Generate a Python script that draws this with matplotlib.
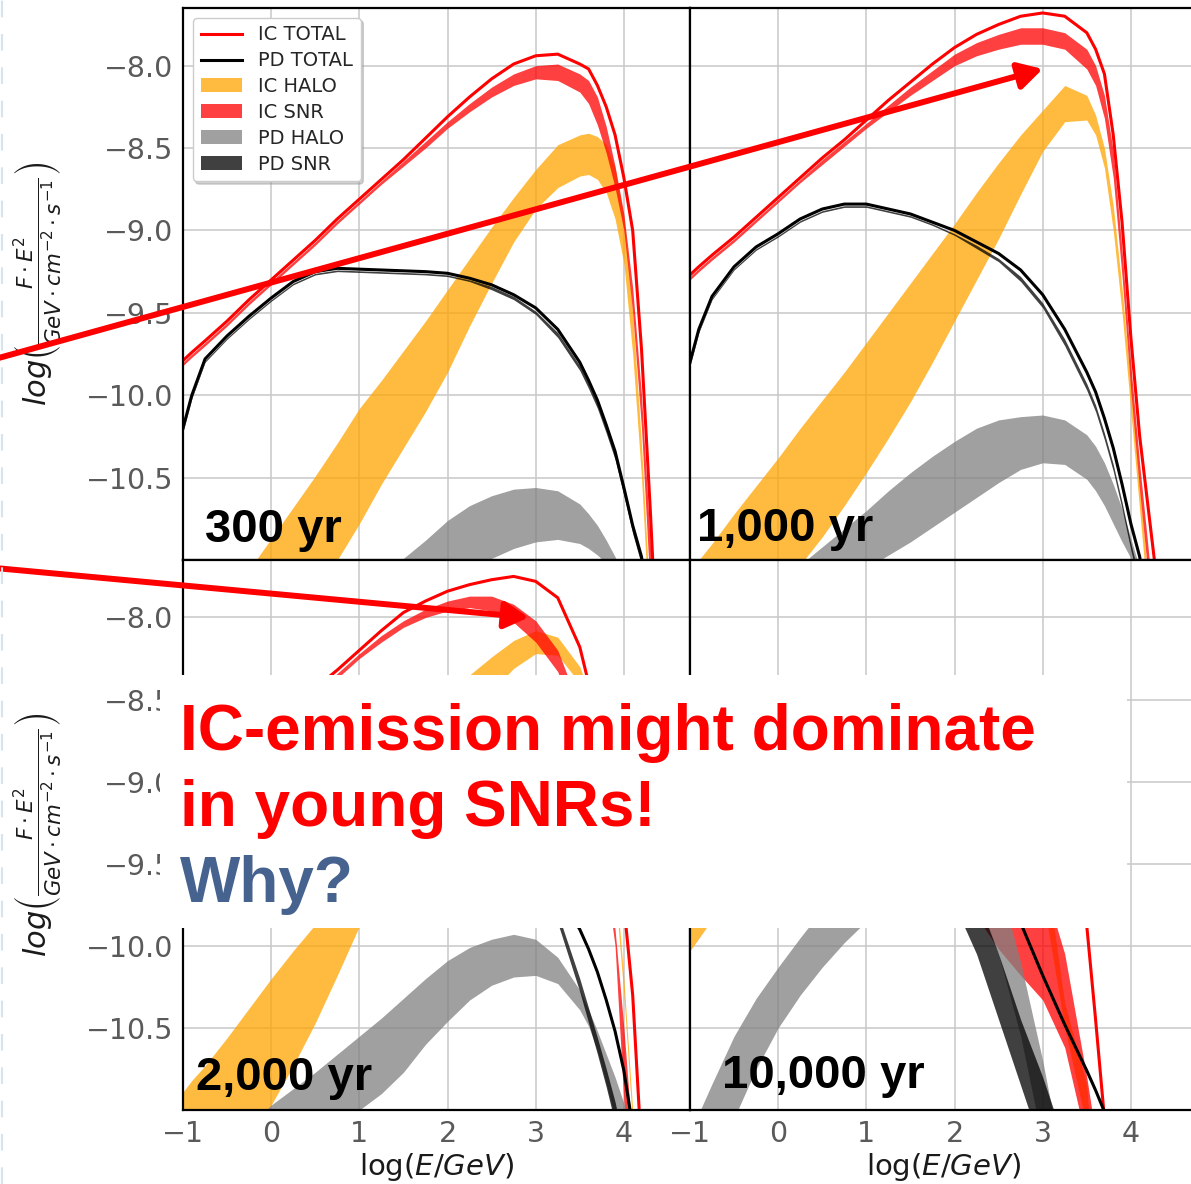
import matplotlib
matplotlib.use("Agg")
import matplotlib.pyplot as plt
from matplotlib.patches import Rectangle
from matplotlib.lines import Line2D

# energy grid, log10(E/GeV)
log_e = [-1, -0.9, -0.75, -0.5, -0.25, 0, 0.25, 0.5, 0.75, 1, 1.25, 1.5, 1.75, 2, 2.25,
         2.5, 2.75, 3, 3.25, 3.5, 3.6, 3.7, 3.8, 3.9, 4.0, 4.1, 4.2, 4.3, 4.4, 4.75]

# ---- 300 yr ----
ic_total_300 = [-9.79, -9.74, -9.67, -9.55, -9.42, -9.30, -9.18, -9.06, -8.93, -8.81, -8.69, -8.57, -8.44, -8.31, -8.19,
                -8.08, -7.99, -7.94, -7.93, -7.99, -8.02, -8.12, -8.25, -8.42, -8.68, -9.00, -9.72, -10.70, -11.80, -12.5]
pd_total_300 = [-10.20, -10.00, -9.78, -9.64, -9.52, -9.41, -9.31, -9.25, -9.23, -9.235, -9.24, -9.245, -9.25, -9.26, -9.29,
                -9.33, -9.39, -9.47, -9.60, -9.80, -9.91, -10.03, -10.18, -10.34, -10.56, -10.79, -10.98, -11.3, -11.6, -12.5]
ic_halo_hi_300 = [-11.63, -11.55, -11.44, -11.25, -11.06, -10.87, -10.68, -10.49, -10.29, -10.08, -9.91, -9.73, -9.55, -9.36, -9.17,
                  -8.98, -8.80, -8.63, -8.48, -8.42, -8.41, -8.43, -8.48, -8.62, -8.92, -9.50, -10.30, -11.30, -12.0, -12.5]
ic_halo_lo_300 = [-12.60, -12.50, -12.38, -12.15, -11.93, -11.70, -11.45, -11.22, -11.00, -10.78, -10.54, -10.32, -10.10, -9.86, -9.58,
                  -9.32, -9.07, -8.87, -8.74, -8.67, -8.66, -8.69, -8.77, -8.93, -9.20, -9.75, -10.50, -11.50, -12.2, -12.6]
ic_snr_hi_300 = [-9.80, -9.75, -9.68, -9.56, -9.43, -9.31, -9.19, -9.07, -8.94, -8.82, -8.70, -8.58, -8.46, -8.34, -8.23,
                 -8.13, -8.05, -8.00, -7.99, -8.05, -8.09, -8.19, -8.37, -8.61, -8.90, -9.35, -10.00, -10.90, -12.0, -12.5]
ic_snr_lo_300 = [-9.82, -9.77, -9.70, -9.58, -9.45, -9.33, -9.21, -9.09, -8.96, -8.84, -8.72, -8.61, -8.50, -8.38, -8.28,
                 -8.19, -8.12, -8.08, -8.09, -8.16, -8.23, -8.36, -8.53, -8.74, -9.00, -9.50, -10.20, -11.20, -12.2, -12.5]
pd_halo_hi_300 = [-12.60, -12.50, -12.35, -12.10, -11.88, -11.68, -11.50, -11.35, -11.22, -11.12, -11.04, -10.99, -10.88, -10.76, -10.67,
                  -10.61, -10.57, -10.56, -10.58, -10.66, -10.72, -10.79, -10.88, -10.98, -11.10, -11.25, -11.45, -11.7, -12.0, -12.5]
pd_halo_lo_300 = [-13.00, -12.90, -12.80, -12.60, -12.40, -12.20, -12.00, -11.82, -11.66, -11.52, -11.40, -11.30, -11.20, -11.12, -11.05,
                  -10.99, -10.93, -10.89, -10.875, -10.90, -10.93, -10.97, -11.02, -11.10, -11.20, -11.35, -11.55, -11.8, -12.1, -12.6]
pd_snr_hi_300 = [-10.21, -10.01, -9.79, -9.65, -9.53, -9.42, -9.32, -9.26, -9.24, -9.245, -9.25, -9.255, -9.26, -9.27, -9.30,
                 -9.34, -9.40, -9.49, -9.62, -9.82, -9.93, -10.05, -10.20, -10.36, -10.58, -10.81, -11.00, -11.32, -11.62, -12.5]
pd_snr_lo_300 = [-10.22, -10.02, -9.80, -9.66, -9.54, -9.43, -9.33, -9.27, -9.25, -9.255, -9.26, -9.265, -9.27, -9.28, -9.31,
                 -9.36, -9.42, -9.51, -9.65, -9.85, -9.96, -10.08, -10.23, -10.39, -10.61, -10.84, -11.03, -11.35, -11.65, -12.5]

# ---- 1,000 yr ----
ic_total_1k = [-9.27, -9.22, -9.15, -9.04, -8.92, -8.80, -8.68, -8.56, -8.45, -8.33, -8.21, -8.10, -7.99, -7.89, -7.81,
               -7.75, -7.70, -7.68, -7.70, -7.80, -7.90, -8.05, -8.42, -8.95, -9.65, -10.25, -10.70, -11.15, -11.6, -12.5]
pd_total_1k = [-9.80, -9.60, -9.40, -9.22, -9.10, -9.02, -8.93, -8.87, -8.84, -8.84, -8.87, -8.90, -8.95, -9.00, -9.07,
               -9.14, -9.24, -9.39, -9.60, -9.86, -9.98, -10.14, -10.32, -10.54, -10.78, -10.98, -11.30, -11.7, -12.0, -12.5]
ic_halo_hi_1k = [-11.10, -11.00, -10.90, -10.72, -10.55, -10.38, -10.20, -10.03, -9.86, -9.68, -9.50, -9.32, -9.14, -8.96, -8.77,
                 -8.59, -8.42, -8.27, -8.12, -8.18, -8.30, -8.50, -8.85, -9.35, -9.95, -10.55, -11.15, -11.70, -12.2, -12.6]
ic_halo_lo_1k = [-12.00, -11.92, -11.80, -11.60, -11.40, -11.20, -11.03, -10.86, -10.67, -10.47, -10.26, -10.04, -9.80, -9.55, -9.30,
                 -9.05, -8.78, -8.52, -8.34, -8.33, -8.42, -8.62, -9.00, -9.50, -10.10, -10.70, -11.30, -11.90, -12.4, -12.8]
ic_snr_hi_1k = [-9.28, -9.23, -9.16, -9.05, -8.93, -8.81, -8.69, -8.57, -8.46, -8.35, -8.24, -8.13, -8.03, -7.93, -7.86,
                -7.81, -7.77, -7.77, -7.80, -7.90, -8.00, -8.18, -8.52, -9.12, -9.82, -10.42, -10.95, -11.5, -12.0, -12.5]
ic_snr_lo_1k = [-9.30, -9.25, -9.18, -9.07, -8.95, -8.83, -8.71, -8.60, -8.49, -8.38, -8.28, -8.18, -8.09, -8.00, -7.94,
                -7.90, -7.87, -7.87, -7.90, -8.02, -8.12, -8.32, -8.68, -9.28, -9.98, -10.58, -11.12, -11.6, -12.1, -12.5]
pd_halo_hi_1k = [-11.60, -11.55, -11.50, -11.38, -11.27, -11.15, -11.03, -10.92, -10.81, -10.70, -10.58, -10.47, -10.37, -10.28, -10.20,
                 -10.15, -10.13, -10.12, -10.15, -10.24, -10.31, -10.41, -10.54, -10.69, -10.87, -11.05, -11.30, -11.6, -11.9, -12.5]
pd_halo_lo_1k = [-12.20, -12.15, -12.05, -11.90, -11.75, -11.60, -11.45, -11.30, -11.17, -11.05, -10.97, -10.89, -10.80, -10.71, -10.62,
                 -10.53, -10.45, -10.41, -10.42, -10.51, -10.58, -10.67, -10.78, -10.89, -10.99, -11.15, -11.40, -11.7, -12.0, -12.6]
pd_snr_hi_1k = [-9.81, -9.61, -9.41, -9.23, -9.11, -9.03, -8.94, -8.88, -8.85, -8.85, -8.88, -8.91, -8.96, -9.02, -9.09,
                -9.17, -9.28, -9.44, -9.66, -9.93, -10.06, -10.23, -10.42, -10.65, -10.90, -11.12, -11.45, -11.8, -12.1, -12.5]
pd_snr_lo_1k = [-9.82, -9.62, -9.42, -9.24, -9.12, -9.04, -8.95, -8.89, -8.86, -8.86, -8.89, -8.92, -8.97, -9.03, -9.11,
                -9.19, -9.31, -9.47, -9.70, -9.97, -10.10, -10.27, -10.46, -10.69, -10.94, -11.16, -11.50, -11.85, -12.15, -12.5]

# ---- 2,000 yr ----
ic_total_2k = [-9.10, -9.06, -9.00, -8.90, -8.80, -8.66, -8.54, -8.43, -8.32, -8.20, -8.08, -7.97, -7.90, -7.84, -7.80,
               -7.77, -7.75, -7.78, -7.88, -8.18, -8.40, -8.65, -8.95, -9.33, -9.75, -10.30, -11.25, -12.0, -12.3, -12.6]
pd_total_2k = [-9.60, -9.45, -9.30, -9.17, -9.08, -9.02, -8.98, -8.97, -8.98, -9.00, -9.03, -9.07, -9.12, -9.18, -9.25,
               -9.33, -9.42, -9.53, -9.68, -9.90, -10.02, -10.16, -10.33, -10.52, -10.76, -11.10, -11.50, -11.9, -12.2, -12.6]
ic_halo_hi_2k = [-10.89, -10.82, -10.73, -10.56, -10.38, -10.20, -10.03, -9.87, -9.67, -9.46, -9.25, -9.03, -8.80, -8.57, -8.35,
                 -8.24, -8.14, -8.08, -8.12, -8.30, -8.45, -8.70, -9.05, -9.55, -10.20, -11.00, -11.8, -12.3, -12.6, -12.8]
ic_halo_lo_2k = [-11.90, -11.80, -11.65, -11.45, -11.20, -10.97, -10.73, -10.47, -10.18, -9.88, -9.60, -9.33, -9.07, -8.83, -8.62,
                 -8.45, -8.31, -8.22, -8.23, -8.40, -8.55, -8.80, -9.15, -9.65, -10.30, -11.10, -11.9, -12.4, -12.7, -12.9]
ic_snr_hi_2k = [-9.12, -9.08, -9.02, -8.92, -8.82, -8.68, -8.56, -8.45, -8.34, -8.22, -8.11, -8.02, -7.95, -7.90, -7.87,
                -7.87, -7.92, -8.02, -8.20, -8.55, -8.80, -9.10, -9.50, -9.90, -10.50, -11.20, -11.8, -12.2, -12.5, -12.7]
ic_snr_lo_2k = [-9.14, -9.10, -9.04, -8.94, -8.84, -8.70, -8.58, -8.47, -8.37, -8.25, -8.15, -8.06, -8.00, -7.96, -7.94,
                -7.96, -8.03, -8.15, -8.33, -8.70, -8.95, -9.25, -9.60, -10.00, -10.95, -11.5, -12.0, -12.3, -12.6, -12.8]
pd_halo_hi_2k = [-11.50, -11.44, -11.35, -11.22, -11.10, -10.97, -10.87, -10.77, -10.66, -10.55, -10.44, -10.32, -10.20, -10.09, -10.01,
                 -9.96, -9.93, -9.96, -10.07, -10.27, -10.39, -10.52, -10.66, -10.80, -10.96, -11.15, -11.40, -11.7, -12.0, -12.5]
pd_halo_lo_2k = [-12.50, -12.40, -12.25, -12.00, -11.70, -11.50, -11.32, -11.16, -11.06, -11.00, -10.90, -10.77, -10.60, -10.46, -10.33,
                 -10.24, -10.19, -10.18, -10.23, -10.39, -10.49, -10.64, -10.84, -11.05, -11.30, -11.6, -11.9, -12.2, -12.5, -12.8]
pd_snr_hi_2k = [-9.62, -9.47, -9.32, -9.19, -9.10, -9.04, -9.00, -8.99, -9.00, -9.02, -9.06, -9.10, -9.16, -9.23, -9.31,
                -9.40, -9.50, -9.60, -9.80, -10.20, -10.38, -10.56, -10.75, -10.95, -11.20, -11.5, -11.8, -12.1, -12.4, -12.7]
pd_snr_lo_2k = [-9.66, -9.51, -9.36, -9.23, -9.14, -9.08, -9.04, -9.03, -9.04, -9.06, -9.10, -9.14, -9.20, -9.27, -9.36,
                -9.45, -9.55, -9.65, -9.86, -10.28, -10.47, -10.66, -10.86, -11.08, -11.30, -11.6, -11.9, -12.2, -12.5, -12.8]

# ---- 10,000 yr ----
ic_total_10k = [-9.40, -9.34, -9.25, -9.10, -8.97, -8.85, -8.75, -8.66, -8.58, -8.52, -8.47, -8.44, -8.42, -8.41, -8.42,
                -8.45, -8.50, -8.60, -8.90, -9.88, -10.45, -11.05, -11.6, -12.0, -12.3, -12.5, -12.6, -12.7, -12.8, -12.9]
pd_total_10k = [-9.70, -9.60, -9.48, -9.36, -9.28, -9.22, -9.18, -9.15, -9.12, -9.08, -9.04, -9.00, -8.98, -9.00, -9.12,
                -9.45, -9.86, -10.18, -10.48, -10.76, -10.88, -11.01, -11.15, -11.3, -11.45, -11.6, -11.8, -12.0, -12.2, -12.6]
ic_halo_hi_10k = [-9.50, -9.44, -9.33, -9.17, -9.02, -8.90, -8.79, -8.70, -8.63, -8.57, -8.53, -8.50, -8.49, -8.50, -8.54,
                  -8.62, -8.85, -9.40, -10.35, -10.85, -11.60, -12.2, -12.4, -12.5, -12.6, -12.7, -12.8, -12.8, -12.9, -12.9]
ic_halo_lo_10k = [-10.03, -9.955, -9.84, -9.66, -9.49, -9.33, -9.19, -9.07, -8.97, -8.89, -8.84, -8.81, -8.80, -8.82, -8.87,
                  -8.97, -9.20, -9.70, -10.50, -11.10, -11.80, -12.4, -12.5, -12.6, -12.7, -12.8, -12.8, -12.9, -12.9, -12.9]
ic_snr_hi_10k = [-9.80, -9.75, -9.67, -9.55, -9.43, -9.32, -9.21, -9.11, -9.02, -8.94, -8.88, -8.84, -8.83, -8.85, -8.92,
                 -9.05, -9.27, -9.60, -10.05, -10.80, -11.15, -11.5, -11.9, -12.2, -12.4, -12.5, -12.6, -12.7, -12.8, -12.9]
ic_snr_lo_10k = [-9.83, -9.78, -9.71, -9.60, -9.49, -9.39, -9.30, -9.22, -9.16, -9.12, -9.12, -9.17, -9.30, -9.50, -9.82,
                 -10.02, -10.18, -10.33, -10.62, -11.20, -11.60, -12.0, -12.3, -12.5, -12.6, -12.7, -12.8, -12.8, -12.9, -12.9]
pd_halo_hi_10k = [-11.15, -11.02, -10.84, -10.55, -10.32, -10.13, -9.95, -9.78, -9.62, -9.48, -9.36, -9.27, -9.20, -9.18, -9.30,
                  -9.60, -10.10, -10.70, -11.40, -12.0, -12.2, -12.4, -12.5, -12.6, -12.7, -12.8, -12.8, -12.9, -12.9, -12.9]
pd_halo_lo_10k = [-11.80, -11.65, -11.42, -11.05, -10.75, -10.50, -10.30, -10.13, -9.98, -9.85, -9.74, -9.66, -9.60, -9.62, -9.75,
                  -10.05, -10.55, -11.20, -11.90, -12.3, -12.5, -12.6, -12.7, -12.8, -12.8, -12.9, -12.9, -12.9, -12.9, -12.9]
pd_snr_hi_10k = [-9.74, -9.65, -9.55, -9.45, -9.40, -9.37, -9.36, -9.36, -9.37, -9.39, -9.42, -9.46, -9.50, -9.55, -9.70,
                 -10.05, -10.45, -10.80, -11.20, -11.6, -11.8, -12.0, -12.2, -12.4, -12.5, -12.6, -12.7, -12.8, -12.9, -12.9]
pd_snr_lo_10k = [-9.84, -9.77, -9.69, -9.61, -9.57, -9.55, -9.54, -9.54, -9.55, -9.57, -9.60, -9.64, -9.68, -9.75, -10.05,
                 -10.45, -10.85, -11.25, -11.60, -11.9, -12.1, -12.3, -12.4, -12.5, -12.6, -12.7, -12.8, -12.8, -12.9, -12.9]

ages = ["300 yr", "1,000 yr", "2,000 yr", "10,000 yr"]
y_ticks = [-10.5, -10.0, -9.5, -9.0, -8.5, -8.0]
x_ticks = [-1, 0, 1, 2, 3, 4]

W, H = 1191, 1184
fig = plt.figure(figsize=(W / 100, H / 100), dpi=100)
fig.patch.set_facecolor("white")

def px_box(left, top, width, height):
    return [left / W, 1 - (top + height) / H, width / W, height / H]

ax_tl = fig.add_axes(px_box(183, 8, 507, 552))
ax_tr = fig.add_axes(px_box(690, 8, 507, 552))
ax_bl = fig.add_axes(px_box(183, 560, 507, 550))
ax_br = fig.add_axes(px_box(690, 560, 507, 550))

ylab = r"$log\left(\frac{F\cdot E^2}{GeV\cdot cm^{-2}\cdot s^{-1}}\right)$"


def draw_panel(ax, ic_total, pd_total, ic_halo, ic_snr, pd_halo, pd_snr, age, age_pos):
    ax.fill_between(log_e, ic_halo[0], ic_halo[1], color="orange", alpha=0.75, lw=0, label="IC HALO")
    ax.fill_between(log_e, ic_snr[0], ic_snr[1], color="red", alpha=0.75, lw=0, label="IC SNR")
    ax.fill_between(log_e, pd_halo[0], pd_halo[1], color="gray", alpha=0.75, lw=0, label="PD HALO")
    ax.fill_between(log_e, pd_snr[0], pd_snr[1], color="black", alpha=0.75, lw=0, label="PD SNR")
    ax.plot(log_e, ic_total, color="red", lw=2.2, label="IC TOTAL")
    ax.plot(log_e, pd_total, color="black", lw=2.2, label="PD TOTAL")
    ax.set_xlim(-1, 4.75)
    ax.set_ylim(-11, -7.65)
    ax.set_xticks(x_ticks)
    ax.set_yticks(y_ticks)
    ax.grid(True, color="#c8c8c8", lw=1.1)
    ax.set_axisbelow(True)
    for sp in ax.spines.values():
        sp.set_color("black")
        sp.set_linewidth(1.6)
    ax.tick_params(length=0, labelsize=20.5, labelcolor="#5a5a5a", pad=7)
    ax.text(age_pos[0], age_pos[1], age, transform=ax.transAxes, fontsize=34,
            fontweight="bold", family="Liberation Sans", color="black", va="baseline")


draw_panel(ax_tl, ic_total_300, pd_total_300, (ic_halo_lo_300, ic_halo_hi_300), (ic_snr_lo_300, ic_snr_hi_300),
           (pd_halo_lo_300, pd_halo_hi_300), (pd_snr_lo_300, pd_snr_hi_300), ages[0], (0.043, 0.033))
draw_panel(ax_tr, ic_total_1k, pd_total_1k, (ic_halo_lo_1k, ic_halo_hi_1k), (ic_snr_lo_1k, ic_snr_hi_1k),
           (pd_halo_lo_1k, pd_halo_hi_1k), (pd_snr_lo_1k, pd_snr_hi_1k), ages[1], (0.014, 0.034))
draw_panel(ax_bl, ic_total_2k, pd_total_2k, (ic_halo_lo_2k, ic_halo_hi_2k), (ic_snr_lo_2k, ic_snr_hi_2k),
           (pd_halo_lo_2k, pd_halo_hi_2k), (pd_snr_lo_2k, pd_snr_hi_2k), ages[2], (0.026, 0.036))
draw_panel(ax_br, ic_total_10k, pd_total_10k, (ic_halo_lo_10k, ic_halo_hi_10k), (ic_snr_lo_10k, ic_snr_hi_10k),
           (pd_halo_lo_10k, pd_halo_hi_10k), (pd_snr_lo_10k, pd_snr_hi_10k), ages[3], (0.063, 0.04))

for ax in (ax_tl, ax_tr):
    ax.tick_params(labelbottom=False)
for ax in (ax_tr, ax_br):
    ax.tick_params(labelleft=False)
for ax in (ax_tl, ax_bl):
    ax.set_ylabel(ylab, fontsize=22, color="#1a1a1a")
    ax.yaxis.set_label_coords(-0.23, 0.5)
for ax in (ax_bl, ax_br):
    ax.set_xlabel(r"log($E/GeV$)", fontsize=21, color="#1a1a1a")
    ax.xaxis.set_label_coords(0.5, -0.075)

# totals first in the legend, then the bands
handles, labels = ax_tl.get_legend_handles_labels()
order = [labels.index(n) for n in ["IC TOTAL", "PD TOTAL", "IC HALO", "IC SNR", "PD HALO", "PD SNR"]]
ax_tl.legend([handles[i] for i in order], [labels[i] for i in order], loc="upper left",
             fontsize=14, labelspacing=0.35, handlelength=2.15, borderpad=0.4, fancybox=True,
             shadow={"color": "#9a9a9a", "alpha": 0.45}, framealpha=1, edgecolor="#cccccc",
             labelcolor="#262626")

# arrows pointing at the SNR bumps
arrow_style = dict(arrowstyle="-|>,head_length=0.8,head_width=0.45", color="red", lw=4.3,
                   mutation_scale=18, shrinkA=0, shrinkB=0)
ax_tr.annotate("", xy=(3.0, -8.02), xycoords="data", xytext=(-5, H - 359),
               textcoords="figure pixels", arrowprops=arrow_style, annotation_clip=False)
ax_bl.annotate("", xy=(2.92, -8.0), xycoords="data", xytext=(-5, H - 568),
               textcoords="figure pixels", arrowprops=arrow_style, annotation_clip=False)

# faint dashed guide at the left edge
fig.add_artist(Line2D([1.5 / W, 1.5 / W], [0, 1], transform=fig.transFigure,
                      color="#d6e4f0", lw=1.5, ls=(0, (8, 8))))

# white callout box with the message
fig.add_artist(Rectangle((160 / W, 1 - 928 / H), 967 / W, 253 / H, transform=fig.transFigure,
                         facecolor="white", edgecolor="none", zorder=5))
txt = dict(fontsize=46, fontweight="bold", family="Liberation Sans", va="baseline", zorder=6)
fig.text(180 / W, 1 - 750 / H, "IC-emission might dominate", color="red", **txt)
fig.text(180 / W, 1 - 826 / H, "in young SNRs!", color="red", **txt)
fig.text(180 / W, 1 - 902 / H, "Why?", color="#46628f", **txt)

fig.savefig("out.png", dpi=100)
